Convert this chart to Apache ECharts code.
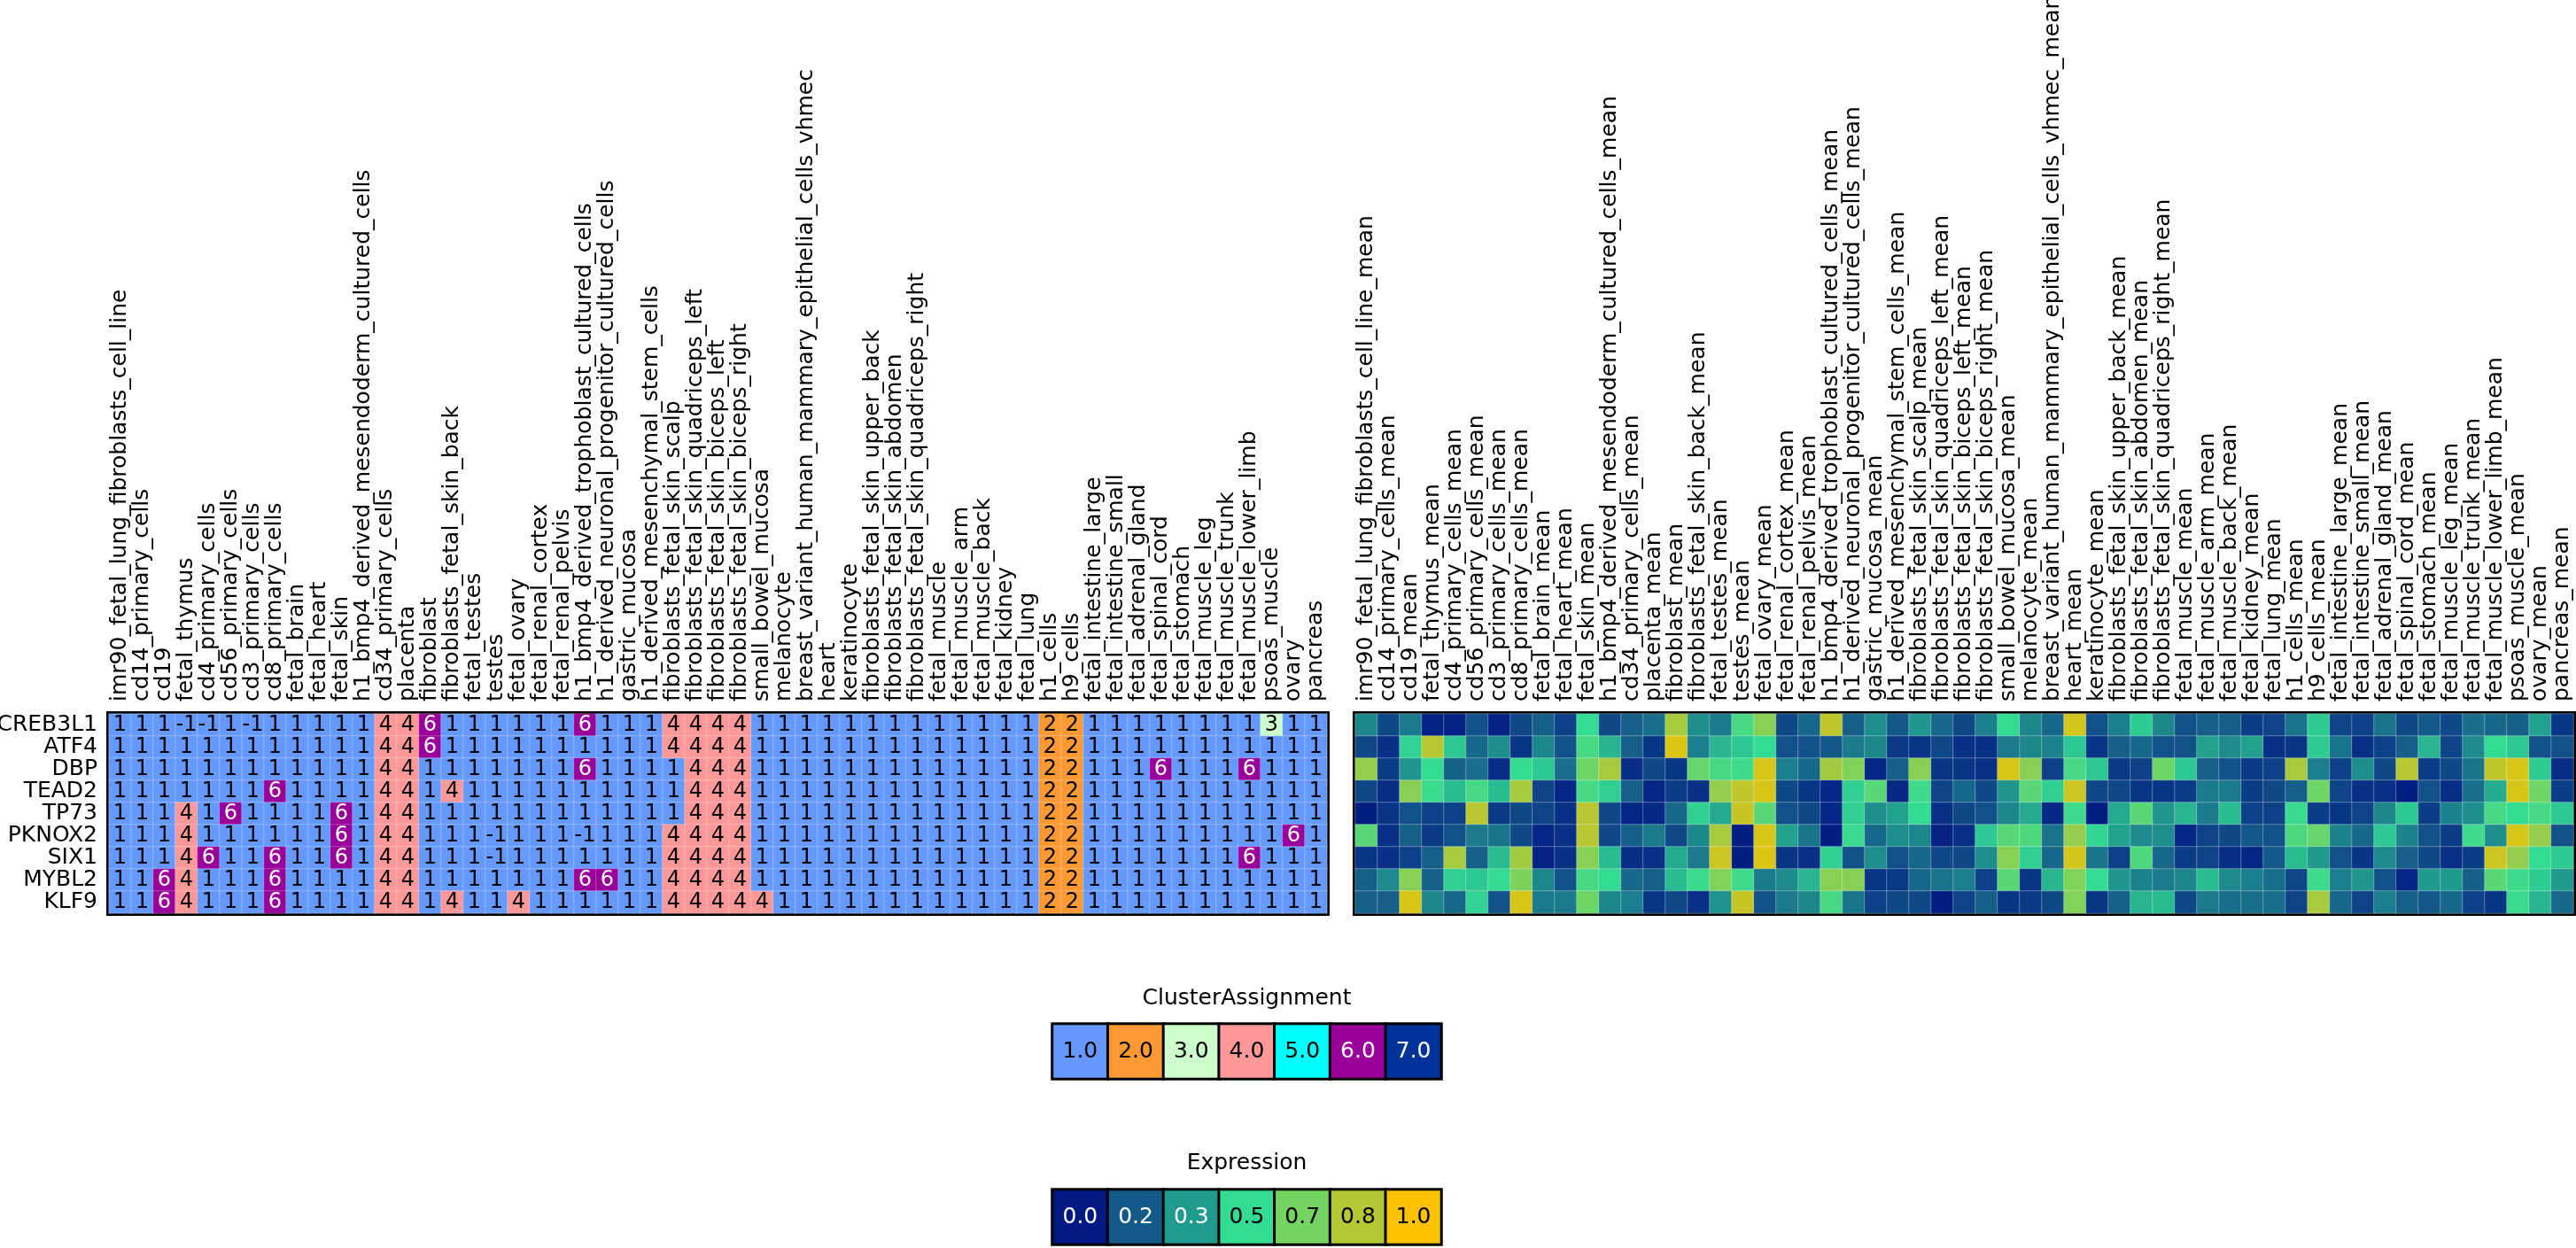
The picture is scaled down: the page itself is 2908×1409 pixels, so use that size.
<!DOCTYPE html>
<html><head><meta charset="utf-8">
<script src="https://cdn.jsdelivr.net/npm/echarts@6/dist/echarts.min.js"></script>
<style>html,body{margin:0;padding:0;background:#fff}#chart{width:2908px;height:1409px}</style>
</head><body><div id="chart"></div>
<script>
const genes = ['CREB3L1','ATF4','DBP','TEAD2','TP73','PKNOX2','SIX1','MYBL2','KLF9'];
const tissues = ['imr90_fetal_lung_fibroblasts_cell_line','cd14_primary_cells','cd19','fetal_thymus','cd4_primary_cells','cd56_primary_cells','cd3_primary_cells','cd8_primary_cells','fetal_brain','fetal_heart','fetal_skin','h1_bmp4_derived_mesendoderm_cultured_cells','cd34_primary_cells','placenta','fibroblast','fibroblasts_fetal_skin_back','fetal_testes','testes','fetal_ovary','fetal_renal_cortex','fetal_renal_pelvis','h1_bmp4_derived_trophoblast_cultured_cells','h1_derived_neuronal_progenitor_cultured_cells','gastric_mucosa','h1_derived_mesenchymal_stem_cells','fibroblasts_fetal_skin_scalp','fibroblasts_fetal_skin_quadriceps_left','fibroblasts_fetal_skin_biceps_left','fibroblasts_fetal_skin_biceps_right','small_bowel_mucosa','melanocyte','breast_variant_human_mammary_epithelial_cells_vhmec','heart','keratinocyte','fibroblasts_fetal_skin_upper_back','fibroblasts_fetal_skin_abdomen','fibroblasts_fetal_skin_quadriceps_right','fetal_muscle','fetal_muscle_arm','fetal_muscle_back','fetal_kidney','fetal_lung','h1_cells','h9_cells','fetal_intestine_large','fetal_intestine_small','fetal_adrenal_gland','fetal_spinal_cord','fetal_stomach','fetal_muscle_leg','fetal_muscle_trunk','fetal_muscle_lower_limb','psoas_muscle','ovary','pancreas'];
const meanSuffix = '_mean';
const tissuesMean = tissues.map(t => t + meanSuffix);

// Cluster assignments (left heatmap)
const clusterCREB3L1 = [1,1,1,-1,-1,1,-1,1,1,1,1,1,4,4,6, 1,1,1,1,1,1,6,1,1,1,4,4,4,4,1,1,1,1,1,1,1, 1,1,1,1,1,1,2,2,1,1,1,1,1,1,1,1,3,1,1];
const clusterATF4    = [1,1,1,1,1,1,1,1,1,1,1,1,4,4,6, 1,1,1,1,1,1,1,1,1,1,4,4,4,4,1,1,1,1,1,1,1, 1,1,1,1,1,1,2,2,1,1,1,1,1,1,1,1,1,1,1];
const clusterDBP     = [1,1,1,1,1,1,1,1,1,1,1,1,4,4,1, 1,1,1,1,1,1,6,1,1,1,1,4,4,4,1,1,1,1,1,1,1, 1,1,1,1,1,1,2,2,1,1,1,6,1,1,1,6,1,1,1];
const clusterTEAD2   = [1,1,1,1,1,1,1,6,1,1,1,1,4,4,1, 4,1,1,1,1,1,1,1,1,1,1,4,4,4,1,1,1,1,1,1,1, 1,1,1,1,1,1,2,2,1,1,1,1,1,1,1,1,1,1,1];
const clusterTP73    = [1,1,1,4,1,6,1,1,1,1,6,1,4,4,1, 1,1,1,1,1,1,1,1,1,1,1,4,4,4,1,1,1,1,1,1,1, 1,1,1,1,1,1,2,2,1,1,1,1,1,1,1,1,1,1,1];
const clusterPKNOX2  = [1,1,1,4,1,1,1,1,1,1,6,1,4,4,1, 1,1,-1,1,1,1,-1,1,1,1,4,4,4,4,1,1,1,1,1,1,1, 1,1,1,1,1,1,2,2,1,1,1,1,1,1,1,1,1,6,1];
const clusterSIX1    = [1,1,1,4,6,1,1,6,1,1,6,1,4,4,1, 1,1,-1,1,1,1,1,1,1,1,4,4,4,4,1,1,1,1,1,1,1, 1,1,1,1,1,1,2,2,1,1,1,1,1,1,1,6,1,1,1];
const clusterMYBL2   = [1,1,6,4,1,1,1,6,1,1,1,1,4,4,1, 1,1,1,1,1,1,6,6,1,1,4,4,4,4,1,1,1,1,1,1,1, 1,1,1,1,1,1,2,2,1,1,1,1,1,1,1,1,1,1,1];
const clusterKLF9    = [1,1,6,4,1,1,1,6,1,1,1,1,4,4,1, 4,1,1,4,1,1,1,1,1,1,4,4,4,4,4,1,1,1,1,1,1, 1,1,1,1,1,1,2,2,1,1,1,1,1,1,1,1,1,1,1];

// Expression means (right heatmap)
const exprCREB3L1 = [.28,.12,.25,.02,.02,.14,.02,.12,.18,.10,.50,.12,.18,.22,.80,.30,.25,.55, .72,.12,.20,.86,.18,.30,.16,.32,.20,.12,.26,.50,.28,.20,.91,.14,.26,.46, .28,.14,.18,.18,.09,.11,.23,.46,.11,.10,.23,.12,.17,.12,.22,.20,.18,.35,.07];
const exprATF4    = [.12,.06,.48,.84,.45,.20,.30,.07,.28,.14,.55,.40,.18,.07,.93,.26,.40,.45, .50,.14,.14,.16,.25,.28,.08,.07,.12,.06,.06,.25,.28,.27,.45,.07,.18,.20, .14,.14,.35,.29,.35,.06,.07,.46,.23,.06,.10,.18,.40,.11,.29,.50,.45,.14,.14];
const exprDBP     = [.75,.09,.32,.50,.19,.22,.05,.50,.45,.22,.65,.80,.05,.12,.07,.63,.55,.53, .92,.26,.20,.79,.70,.03,.18,.72,.07,.07,.06,.92,.72,.10,.55,.45,.08,.10, .65,.45,.18,.14,.08,.10,.80,.26,.10,.30,.12,.84,.09,.12,.23,.86,.92,.46,.05];
const exprTEAD2   = [.12,.05,.72,.52,.42,.55,.42,.80,.11,.03,.55,.47,.18,.03,.09,.06,.75,.86, .92,.12,.07,.03,.47,.60,.04,.53,.11,.20,.12,.32,.60,.47,.89,.12,.12,.07, .07,.09,.25,.25,.09,.12,.18,.65,.11,.06,.06,.01,.14,.05,.22,.38,.92,.65,.09];
const exprTP73    = [.01,.07,.14,.10,.10,.85,.08,.12,.11,.06,.84,.12,.03,.04,.20,.47,.37,.88, .60,.14,.12,.03,.47,.30,.35,.50,.06,.12,.14,.28,.37,.04,.53,.01,.37,.60, .32,.40,.25,.42,.10,.10,.52,.09,.07,.11,.28,.45,.09,.27,.30,.55,.50,.55,.45];
const exprPKNOX2  = [.60,.06,.18,.08,.14,.25,.23,.12,.03,.06,.84,.12,.18,.25,.12,.28,.80,.01, .92,.35,.23,.01,.52,.20,.30,.28,.02,.06,.45,.60,.57,.23,.75,.49,.35,.29, .30,.03,.11,.12,.16,.14,.57,.63,.27,.20,.45,.27,.14,.09,.53,.30,.92,.75,.14];
const exprSIX1    = [.07,.06,.10,.18,.80,.18,.42,.79,.02,.06,.72,.42,.05,.06,.37,.25,.89,.01, .93,.07,.06,.47,.14,.30,.14,.20,.12,.12,.30,.72,.47,.20,.91,.23,.10,.57, .20,.09,.11,.05,.03,.17,.42,.33,.14,.07,.29,.18,.12,.06,.09,.89,.75,.50,.45];
const exprMYBL2   = [.18,.29,.72,.18,.47,.45,.50,.69,.28,.14,.55,.50,.20,.18,.42,.52,.70,.53, .25,.29,.40,.72,.72,.07,.08,.20,.23,.26,.10,.60,.07,.40,.70,.50,.32,.27, .25,.28,.42,.29,.26,.22,.12,.53,.26,.32,.14,.03,.33,.33,.18,.60,.53,.46,.33];
const exprKLF9    = [.18,.18,.92,.28,.20,.48,.14,.92,.25,.25,.65,.28,.26,.07,.12,.06,.31,.88, .14,.25,.28,.55,.23,.10,.12,.12,.01,.11,.18,.07,.08,.12,.70,.07,.18,.40, .42,.12,.25,.22,.22,.22,.11,.80,.20,.11,.26,.18,.16,.20,.10,.07,.52,.40,.20];

// Legends
const clusterLegendValues = [1,2,3,4,5,6,7];
const clusterColors = ['#6699FF','#FF9933','#CCFFCC','#FF9999','#00FFFF','#990099','#003399'];
const expressionLegendValues = [0, 1/6, 2/6, 3/6, 4/6, 5/6, 1];
const expressionColors = ['#011A83','#145A89','#219B8E','#33DB93','#74D462','#B4C835','#FAC200'];

const clusterRows = [clusterCREB3L1,clusterATF4,clusterDBP,clusterTEAD2,clusterTP73,clusterPKNOX2,clusterSIX1,clusterMYBL2,clusterKLF9];
const exprRows = [exprCREB3L1,exprATF4,exprDBP,exprTEAD2,exprTP73,exprPKNOX2,exprSIX1,exprMYBL2,exprKLF9];

function textColor(hex){const n=parseInt(hex.slice(1),16);const r=n>>16,g=(n>>8)&255,b=n&255;return (0.299*r+0.587*g+0.114*b)/255<0.5?'#fff':'#000';}
function clusterColor(v){return v===-1?clusterColors[0]:clusterColors[v-1];}

const FONT = 'DejaVu Sans';
const clusterData = [];
clusterRows.forEach((row,r)=>row.forEach((v,c)=>clusterData.push({value:[c,r,v],label:{color:textColor(clusterColor(v))}})));
const exprData = [];
exprRows.forEach((row,r)=>row.forEach((v,c)=>exprData.push([c,r,v])));
const clusterLegendData = clusterLegendValues.map((v,i)=>({value:[i,0,v],label:{color:textColor(clusterColors[i])}}));
const exprLegendData = expressionLegendValues.map((v,i)=>({value:[i,0,v],label:{color:textColor(expressionColors[i])}}));

const pieces = [{value:-1,color:clusterColors[0]}].concat(clusterLegendValues.map((v,i)=>({value:v,color:clusterColors[i]})));

// column labels drawn via custom series at each category's position
function colLabelSeries(axisIdx, names){
  return {
    type:'custom', xAxisIndex:axisIdx, yAxisIndex:axisIdx, clip:false, silent:true, z:5,
    data: names.map((n,i)=>[i,0]),
    renderItem:(params, api)=>{
      const p = api.coord([api.value(0), api.value(1)]);
      const s = api.size([1,1]);
      return {
        type:'text', x:p[0], y:p[1]-s[1]/2-14, rotation:Math.PI/2,
        style:{text:names[params.dataIndex], fill:'#000', fontSize:25, fontFamily:FONT,
               align:'left', textAlign:'left', verticalAlign:'middle', textVerticalAlign:'middle'}
      };
    }
  };
}

const heatGridBase = {show:true,borderColor:'#000',borderWidth:6,backgroundColor:'transparent',outerBoundsMode:'none',containLabel:false};
const hiddenX = {axisLabel:{show:false},axisTick:{show:false},axisLine:{show:false},splitLine:{show:false}};

const option = {
  animation:false,
  backgroundColor:'#fff',
  grid:[
    Object.assign({left:123,top:806,width:1375,height:225},heatGridBase),
    Object.assign({left:1530,top:806,width:1375,height:225},heatGridBase),
    {left:1188,top:1156,width:439,height:62,outerBoundsMode:'none'},
    {left:1188,top:1343,width:439,height:62,outerBoundsMode:'none'}
  ],
  xAxis:[
    Object.assign({gridIndex:0,type:'category',position:'top',data:tissues},hiddenX),
    Object.assign({gridIndex:1,type:'category',position:'top',data:tissuesMean},hiddenX),
    Object.assign({gridIndex:2,type:'category',position:'top',data:clusterLegendValues.map(String),
      name:'ClusterAssignment',nameLocation:'middle',nameGap:16,nameTextStyle:{fontSize:25,fontFamily:FONT,color:'#000'}},hiddenX),
    Object.assign({gridIndex:3,type:'category',position:'top',data:expressionLegendValues.map(v=>v.toFixed(1)),
      name:'Expression',nameLocation:'middle',nameGap:17,nameTextStyle:{fontSize:25,fontFamily:FONT,color:'#000'}},hiddenX)
  ],
  yAxis:[
    {gridIndex:0,type:'category',inverse:true,data:genes,axisLabel:{interval:0,fontSize:25,fontFamily:FONT,color:'#000',margin:13},axisTick:{show:false},axisLine:{show:false}},
    {gridIndex:1,type:'category',inverse:true,data:genes,axisLabel:{show:false},axisTick:{show:false},axisLine:{show:false}},
    {gridIndex:2,type:'category',data:[''],show:false},
    {gridIndex:3,type:'category',data:[''],show:false}
  ],
  visualMap:[
    {type:'piecewise',show:false,dimension:2,seriesIndex:[0,2],pieces:pieces},
    {type:'continuous',show:false,dimension:2,seriesIndex:[1,3],min:0,max:1,inRange:{color:expressionColors}}
  ],
  series:[
    {type:'heatmap',xAxisIndex:0,yAxisIndex:0,data:clusterData,
      itemStyle:{borderColor:'rgba(255,255,255,0.25)',borderWidth:1},
      label:{show:true,fontSize:24,fontFamily:FONT,formatter:p=>String(p.value[2])},emphasis:{disabled:true}},
    {type:'heatmap',xAxisIndex:1,yAxisIndex:1,data:exprData,
      itemStyle:{borderColor:'rgba(255,255,255,0.3)',borderWidth:1},emphasis:{disabled:true}},
    {type:'heatmap',xAxisIndex:2,yAxisIndex:2,data:clusterLegendData,
      itemStyle:{borderColor:'#000',borderWidth:3},
      label:{show:true,fontSize:25,fontFamily:FONT,formatter:p=>p.value[2].toFixed(1)},emphasis:{disabled:true}},
    {type:'heatmap',xAxisIndex:3,yAxisIndex:3,data:exprLegendData,
      itemStyle:{borderColor:'#000',borderWidth:3},
      label:{show:true,fontSize:25,fontFamily:FONT,formatter:p=>p.value[2].toFixed(1)},emphasis:{disabled:true}},
    colLabelSeries(0, tissues),
    colLabelSeries(1, tissuesMean)
  ]
};
const chart = echarts.init(document.getElementById('chart'),null,{renderer:'canvas'});
chart.setOption(option);
</script></body></html>
